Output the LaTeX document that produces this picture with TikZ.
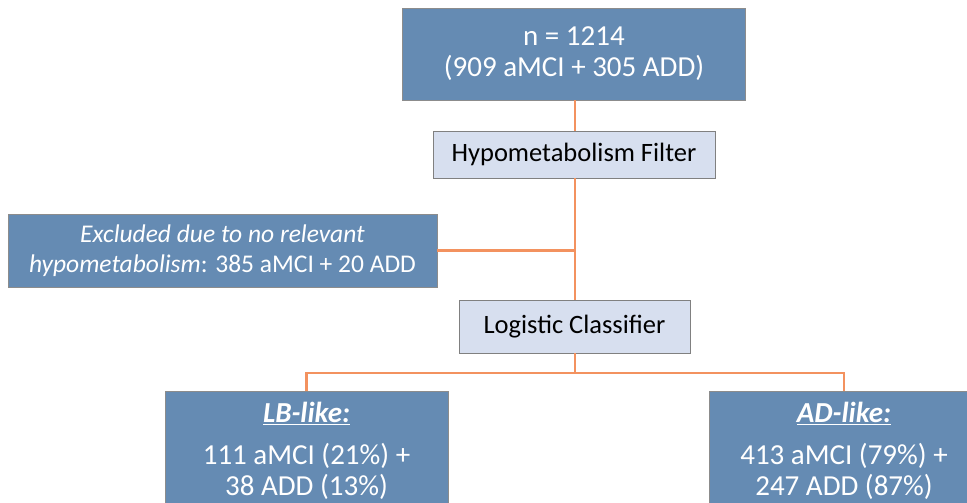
\documentclass[tikz,border=0pt]{standalone}
\usepackage{fontspec}
\setmainfont{Carlito}
\definecolor{darkfill}{HTML}{658BB3}
\definecolor{lightfill}{HTML}{D7DFEF}
\definecolor{linkc}{HTML}{F3925F}
\begin{document}
\begin{tikzpicture}[x=1pt,y=-1pt,
  dark/.style={draw=black!45, fill=darkfill, text=white, line width=0.9pt, inner sep=0pt, align=center, font=\fontsize{29}{31}\selectfont},
  light/.style={draw=black!50, fill=lightfill, text=black, line width=0.9pt, inner sep=0pt, align=center, font=\fontsize{26.5}{31}\selectfont},
  link/.style={draw=linkc, line width=2.8pt}]
\useasboundingbox (0,0) rectangle (967,503);
\clip (0,0) rectangle (967,503);
\node[dark, minimum width=343pt, minimum height=92pt] (top) at (574,54) {n = 1214\\(909 aMCI + 305 ADD)};
\node[light, minimum width=282pt, minimum height=47pt] (hypo) at (574,154.5) {Hypometabolism Filter};
\node[dark, font=\fontsize{25.5}{30}\selectfont, minimum width=429pt, minimum height=73pt] (excl) at (222.5,250.5) {\textit{Excluded due to no relevant}\\\textit{hypometabolism}: 385 aMCI + 20 ADD};
\node[light, minimum width=231pt, minimum height=53pt] (logi) at (574.5,326.5) {Logistic Classifier};
\node[dark, minimum width=283pt, minimum height=120pt] (lb) at (306.5,451) {\underline{\textbf{\textit{LB-like:}}}\\[11pt]111 aMCI (21\%) +\\38 ADD (13\%)};
\node[dark, minimum width=270pt, minimum height=120pt] (ad) at (844,451) {\underline{\textbf{\textit{AD-like:}}}\\[11pt]413 aMCI (79\%) +\\247 ADD (87\%)};
\coordinate (split) at (575,373);
\draw[link] (575,100) -- (575,131);
\draw[link] (575,178) -- (575,300);
\draw[link] (excl.east) -- (excl.east -| split);
\draw[link] (575,353) -- (split);
\draw[link] (split) -| (lb.north);
\draw[link] (split) -| (ad.north);
\end{tikzpicture}
\end{document}
